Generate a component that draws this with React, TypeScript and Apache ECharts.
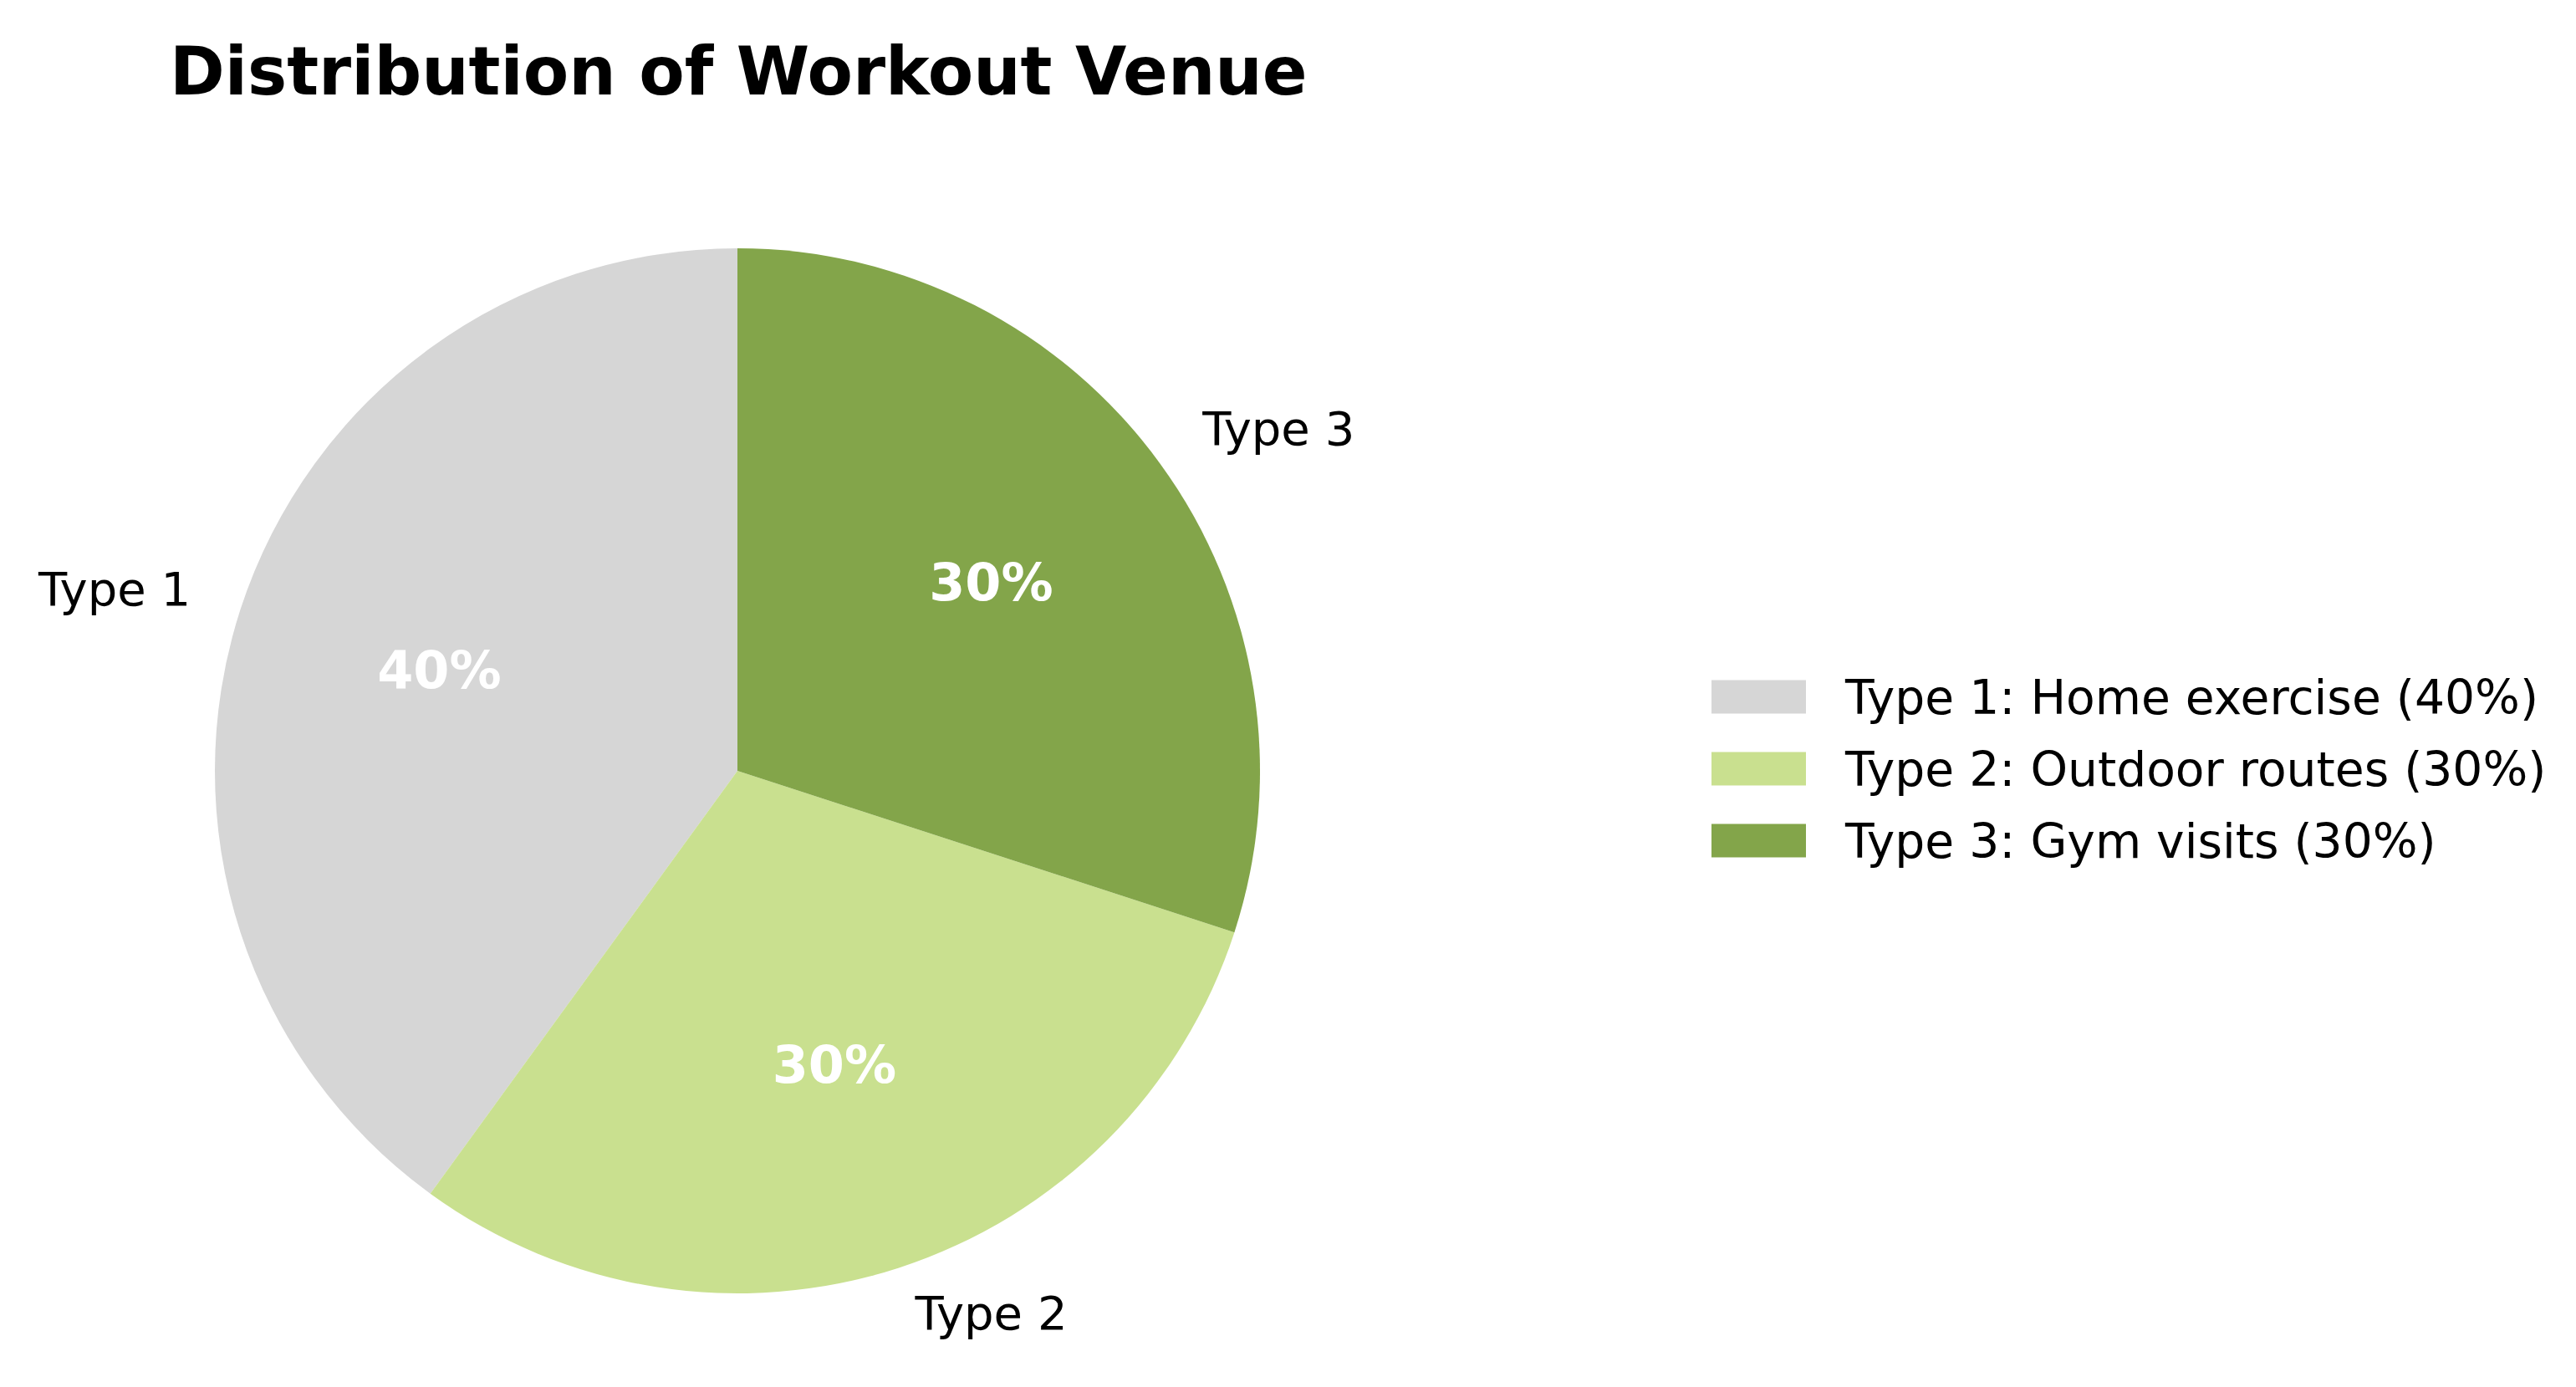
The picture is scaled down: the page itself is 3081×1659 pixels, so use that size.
import React, { useEffect, useRef } from "react";
import * as echarts from "echarts";

const categories = ["Type 1", "Type 2", "Type 3"];
const descriptions = ["Home exercise", "Outdoor routes", "Gym visits"];
const values = [40, 30, 30];
const colors = ["#d6d6d6", "#c9e08f", "#83a54a"];
const titleText = "Distribution of Workout Venue";

const FONT = "DejaVu Sans";

export default function App() {
  const ref = useRef<HTMLDivElement>(null);
  useEffect(() => {
    if (!ref.current) return;
    const chart = echarts.init(ref.current, undefined, { renderer: "svg" });
    const data = categories.map((c, i) => ({
      name: c,
      value: values[i],
      itemStyle: { color: colors[i] },
    }));
    const cx = 882;
    const cy = 922;
    const R = 625;
    chart.setOption({
      animation: false,
      backgroundColor: "#ffffff",
      title: {
        text: titleText,
        left: 198,
        top: 41,
        textStyle: { fontFamily: FONT, fontSize: 79.3, fontWeight: "bold", color: "#000" },
      },
      legend: {
        orient: "vertical",
        left: 2042,
        top: 800,
        icon: "rect",
        itemWidth: 113,
        itemHeight: 40,
        itemGap: 29,
        data: categories,
        formatter: (name: string) => {
          const i = categories.indexOf(name);
          return `${name}: ${descriptions[i]} (${values[i]}%)`;
        },
        textStyle: {
          fontFamily: FONT,
          fontSize: 56.7,
          lineHeight: 57,
          color: "#000",
          padding: [0, 0, 0, 42],
        },
      },
      series: [
        {
          type: "pie",
          center: [cx, cy],
          radius: [0, R],
          startAngle: 90,
          clockwise: false,
          avoidLabelOverlap: false,
          silent: true,
          data,
          label: {
            show: true,
            position: "outside",
            formatter: "{b}",
            fontFamily: FONT,
            fontSize: 56,
            color: "#000",
            distanceToLabelLine: 0,
            offset: [0, -5],
          },
          labelLine: { show: false, length: R * 0.1, length2: 0 },
          emphasis: { disabled: true },
        },
        {
          type: "pie",
          center: [cx, cy],
          radius: [0, 744],
          startAngle: 90,
          clockwise: false,
          avoidLabelOverlap: false,
          silent: true,
          data: categories.map((c, i) => ({
            name: c,
            value: values[i],
            itemStyle: { color: "rgba(0,0,0,0)" },
          })),
          label: {
            show: true,
            position: "inside",
            formatter: (p: any) => `${p.value}%`,
            fontFamily: FONT,
            fontSize: 62,
            fontWeight: "bold",
            color: "#ffffff",
            offset: [0, -5],
          },
          labelLine: { show: false },
          emphasis: { disabled: true },
        },
      ],
    });
    return () => chart.dispose();
  }, []);
  return (
    <div
      ref={ref}
      style={{ position: "fixed", left: 0, top: 0, width: 3081, height: 1659 }}
    />
  );
}
